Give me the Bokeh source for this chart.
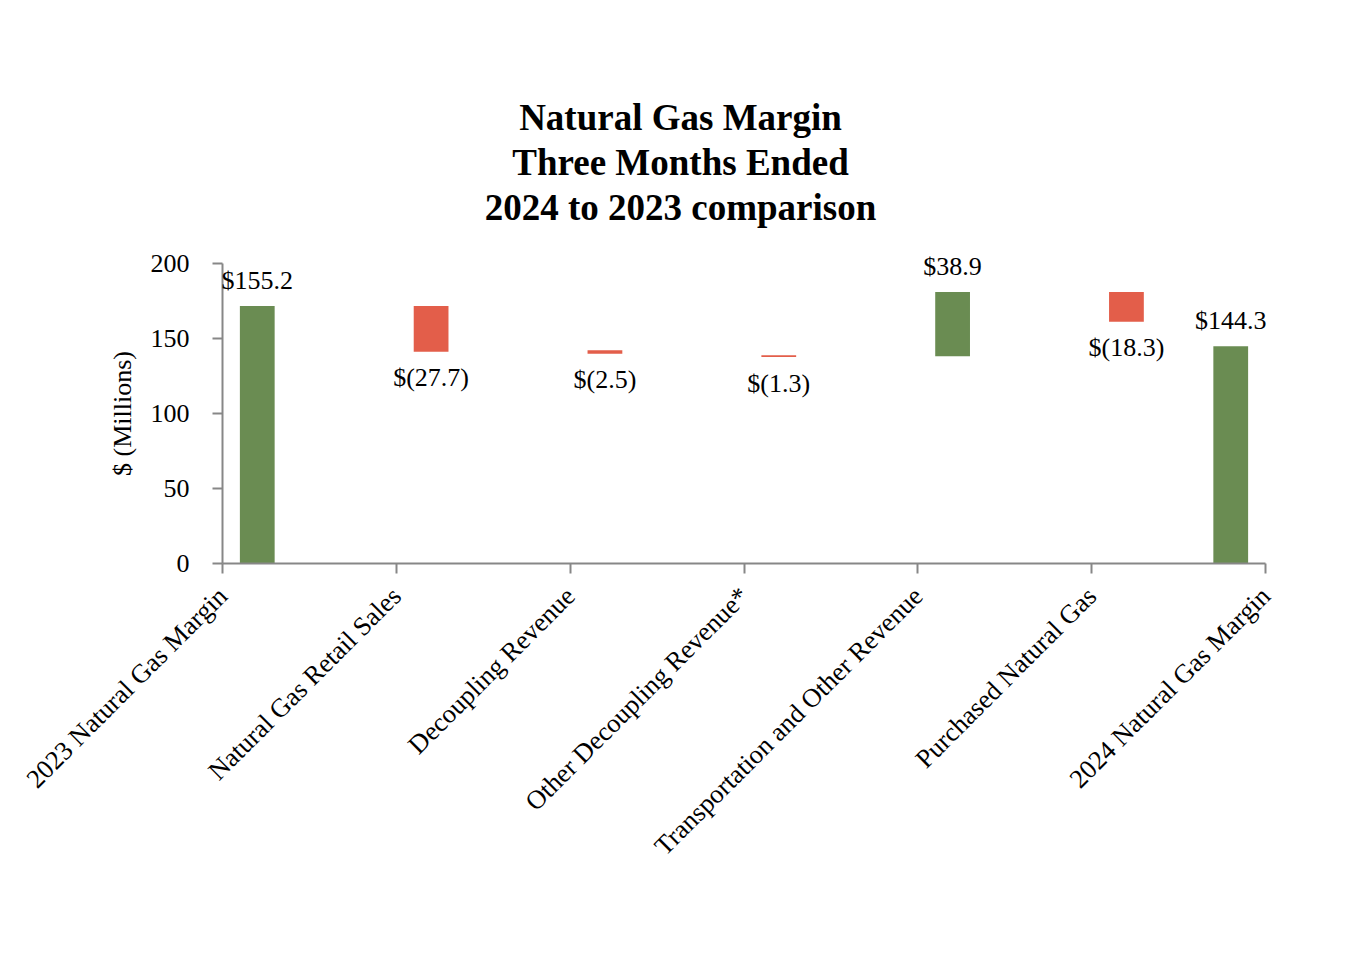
import math
from bokeh.plotting import figure
from bokeh.models import Range1d, FixedTicker, ColumnDataSource, LabelSet, Label
from bokeh.embed import file_html
from bokeh.resources import INLINE

# ---- data ----
categories = [
    "2023 Natural Gas Margin",
    "Natural Gas Retail Sales",
    "Decoupling Revenue",
    "Other Decoupling Revenue*",
    "Transportation and Other Revenue",
    "Purchased Natural Gas",
    "2024 Natural Gas Margin",
]
bar_bottom = [0.0, 141.1, 139.8, 137.6, 138.2, 161.1, 0.0]
bar_top = [171.6, 171.6, 142.2, 138.9, 181.0, 181.0, 144.9]
value_labels = ["$155.2", "$(27.7)", "$(2.5)", "$(1.3)", "$38.9", "$(18.3)", "$144.3"]
bar_kind = ["total", "decrease", "decrease", "decrease", "increase", "decrease", "total"]
title_lines = ["Natural Gas Margin", "Three Months Ended", "2024 to 2023 comparison"]
y_ticks = [0, 50, 100, 150, 200]
y_axis_title = "$ (Millions)"

# ---- layout / styling ----
FONT = "Liberation Serif"
GREEN = "#6A8C52"
RED = "#E35E4A"
AXIS_GRAY = "#878787"
FIG_W, FIG_H = 1348, 944
AXIS_LEFT_PX = 222          # pixel column of the value axis
AXIS_ZERO_PX = 563          # pixel row of the category axis
X_PX = 1043 / 6             # pixels per category slot
Y_PX = 1.5                  # pixels per $ million
AXIS_MAX = 200
BAR_SHIFT = 0.2
BAR_WIDTH = 0.2
LABEL_GAP = 26
TITLE_CENTER_PX = 680
TITLE_FIRST_ROW_PX = 117
TITLE_LINE_PX = 45
YTITLE_CENTER_PX = 122

n = len(categories)
bar_x = [i + BAR_SHIFT for i in range(n - 1)] + [n - 1 - BAR_SHIFT]
colors = [RED if k == "decrease" else GREEN for k in bar_kind]
label_y = [b if k == "decrease" else t for b, t, k in zip(bar_bottom, bar_top, bar_kind)]
label_off = [-LABEL_GAP if k == "decrease" else LABEL_GAP for k in bar_kind]

src = ColumnDataSource(dict(x=bar_x, bottom=bar_bottom, top=bar_top, color=colors,
                            ly=label_y, loff=label_off, label=value_labels))

def px_to_x(px):
    return (px - AXIS_LEFT_PX) / X_PX

def px_to_y(py):
    return (AXIS_ZERO_PX - py) / Y_PX

p = figure(frame_width=FIG_W, frame_height=FIG_H,
           x_range=Range1d(px_to_x(0), px_to_x(FIG_W)),
           y_range=Range1d(px_to_y(FIG_H), px_to_y(0)),
           output_backend="svg", toolbar_location=None, min_border=0)
p.outline_line_color = None
p.xgrid.visible = False
p.ygrid.visible = False
p.background_fill_color = "white"
p.border_fill_color = "white"

p.vbar(x="x", bottom="bottom", top="top", width=BAR_WIDTH, fill_color="color",
       line_color=None, source=src)

p.add_layout(LabelSet(x="x", y="ly", text="label", y_offset="loff", source=src,
                      text_align="center", text_baseline="middle",
                      text_font=FONT, text_font_size="26px", text_color="black"))

# x axis (drawn at y = 0)
xa = p.xaxis[0]
xa.fixed_location = 0
xa.bounds = (0, n - 1)
xa.ticker = FixedTicker(ticks=list(range(n)))
xa.major_label_overrides = {i: c for i, c in enumerate(categories)}
xa.major_label_orientation = math.pi / 4
xa.major_label_text_font = FONT
xa.major_label_text_font_size = "26.5px"
xa.major_label_text_color = "black"
xa.major_label_standoff = 18
xa.major_tick_out = 10
xa.major_tick_in = 0
xa.minor_tick_line_color = None
xa.axis_line_color = AXIS_GRAY
xa.axis_line_width = 2
xa.major_tick_line_color = AXIS_GRAY
xa.major_tick_line_width = 2

# y axis (drawn at x = 0)
ya = p.yaxis[0]
ya.fixed_location = 0
ya.bounds = (0, AXIS_MAX)
ya.ticker = FixedTicker(ticks=y_ticks)
ya.major_label_text_font = FONT
ya.major_label_text_font_size = "26px"
ya.major_label_text_color = "black"
ya.major_label_standoff = 23
ya.major_tick_out = 10
ya.major_tick_in = 0
ya.minor_tick_line_color = None
ya.axis_line_color = AXIS_GRAY
ya.axis_line_width = 2
ya.major_tick_line_color = AXIS_GRAY
ya.major_tick_line_width = 2

p.add_layout(Label(x=px_to_x(YTITLE_CENTER_PX), y=AXIS_MAX / 2, text=y_axis_title,
                   angle=math.pi / 2, text_align="center", text_baseline="middle",
                   text_font=FONT, text_font_size="26px", text_color="black"))

# chart title: three centred lines
for k, txt in enumerate(title_lines):
    p.add_layout(Label(x=px_to_x(TITLE_CENTER_PX),
                       y=px_to_y(TITLE_FIRST_ROW_PX + k * TITLE_LINE_PX),
                       text=txt, text_align="center", text_baseline="middle",
                       text_font=FONT, text_font_size="37px",
                       text_font_style="bold", text_color="black"))

open("out.html", "w").write(file_html(p, INLINE))
